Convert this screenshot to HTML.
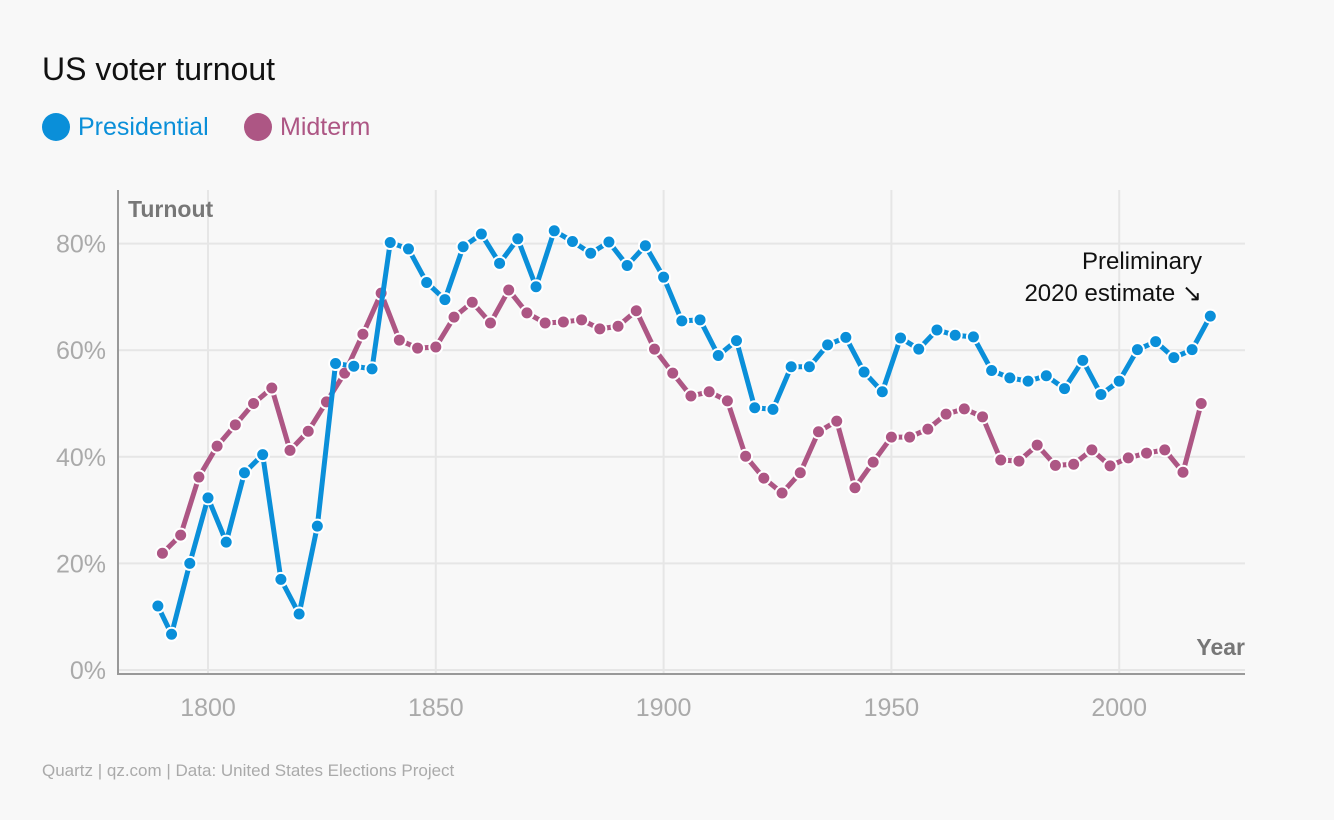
<!DOCTYPE html>
<html><head><meta charset="utf-8">
<style>
body{margin:0;background:#f8f8f8;font-family:"Liberation Sans",sans-serif;}
svg{display:block}
</style></head>
<body>
<svg id="chart" width="1334" height="820">
<text x="42" y="80" font-size="32" fill="#111">US voter turnout</text>
<g>
<circle cx="56" cy="127" r="14" fill="#0a8fd9"/>
<text x="78" y="135" font-size="25" fill="#0a8fd9">Presidential</text>
<circle cx="258" cy="127" r="14" fill="#ad5684"/>
<text x="280" y="135" font-size="25" fill="#ad5684">Midterm</text>
</g>
<g id="grid"></g>
<text x="128" y="217" font-size="23" font-weight="bold" fill="#777">Turnout</text>
<text x="1245" y="655" font-size="23" font-weight="bold" fill="#777" text-anchor="end">Year</text>
<g id="series"></g>
<text x="1202" y="269" font-size="24" fill="#111" text-anchor="end">Preliminary</text>
<text x="1202" y="301" font-size="24" fill="#111" text-anchor="end">2020 estimate ↘</text>
<text x="42" y="776" font-size="17" fill="#aaa">Quartz | qz.com | Data: United States Elections Project</text>
</svg>
<script>
const presYears=[1789,1792,1796,1800,1804,1808,1812,1816,1820,1824,1828,1832,1836,1840,1844,1848,1852,1856,1860,1864,1868,1872,1876,1880,1884,1888,1892,1896,1900,1904,1908,1912,1916,1920,1924,1928,1932,1936,1940,1944,1948,1952,1956,1960,1964,1968,1972,1976,1980,1984,1988,1992,1996,2000,2004,2008,2012,2016,2020];
const presValues=[12,6.7,20,32.3,24,37,40.4,17,10.5,27,57.5,57,56.5,80.2,79,72.7,69.5,79.4,81.8,76.3,80.9,71.9,82.4,80.4,78.2,80.3,75.9,79.6,73.7,65.5,65.7,59,61.8,49.2,48.9,56.9,56.9,61,62.4,55.9,52.2,62.3,60.2,63.8,62.8,62.5,56.2,54.8,54.2,55.2,52.8,58.1,51.7,54.2,60.1,61.6,58.6,60.1,66.4];
const midYears=[1790,1794,1798,1802,1806,1810,1814,1818,1822,1826,1830,1834,1838,1842,1846,1850,1854,1858,1862,1866,1870,1874,1878,1882,1886,1890,1894,1898,1902,1906,1910,1914,1918,1922,1926,1930,1934,1938,1942,1946,1950,1954,1958,1962,1966,1970,1974,1978,1982,1986,1990,1994,1998,2002,2006,2010,2014,2018];
const midValues=[21.9,25.3,36.2,42,46,50,52.9,41.2,44.8,50.3,55.7,63,70.7,61.9,60.4,60.6,66.2,69,65.1,71.3,67,65.1,65.3,65.7,64,64.5,67.4,60.2,55.7,51.4,52.2,50.5,40.1,36,33.2,37,44.7,46.7,34.2,39,43.7,43.7,45.2,48,49,47.5,39.4,39.2,42.2,38.4,38.6,41.3,38.3,39.8,40.7,41.3,37.1,50];
const yTicks=[0,20,40,60,80];
const xTicks=[1800,1850,1900,1950,2000];
const NS="http://www.w3.org/2000/svg";
const xS=y=>208+(y-1800)*4.556;
const yS=v=>670-v*5.33;
function mk(t,a,p){const e=document.createElementNS(NS,t);for(const k in a)e.setAttribute(k,a[k]);p.appendChild(e);return e;}
const grid=document.getElementById('grid');
yTicks.forEach(t=>{
 const l=mk('line',{x1:118,x2:1245,y1:yS(t),y2:yS(t),stroke:'#e6e6e6','stroke-width':2},grid);
 
 
 const tx=mk('text',{x:106,y:yS(t)+9,'font-size':25,fill:'#aaa','text-anchor':'end'},grid);
 tx.textContent=t+'%';
 
 
});
xTicks.forEach(t=>{
 const l=mk('line',{x1:xS(t),x2:xS(t),y1:190,y2:674,stroke:'#e6e6e6','stroke-width':2},grid);
 
 
 const tx=mk('text',{x:xS(t),y:716,'font-size':25,fill:'#aaa','text-anchor':'middle'},grid);
 tx.textContent=t;
 
 
});
const ax=mk('path',{d:'M118 190 V674 H1245',fill:'none',stroke:'#999','stroke-width':2},grid);


const ser=document.getElementById('series');
function draw(xs,vs,col,name){
 const p=mk('polyline',{points:xs.map((x,i)=>xS(x)+','+yS(vs[i])).join(' '),fill:'none',stroke:col,'stroke-width':5,'stroke-linejoin':'round'},ser);
 
 
 xs.forEach((x,i)=>{
  const c=mk('circle',{cx:xS(x),cy:yS(vs[i]),r:6.5,fill:col,stroke:'#fff','stroke-width':2},ser);
  
  
 });
}
draw(midYears,midValues,'#ad5684','midterm');
draw(presYears,presValues,'#0a8fd9','presidential');
</script>
</body></html>
